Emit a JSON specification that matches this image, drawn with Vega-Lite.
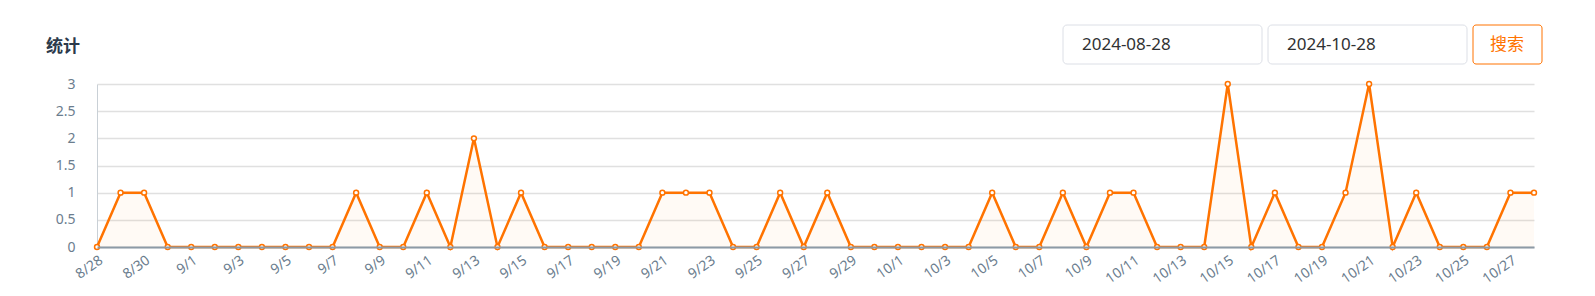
{
  "$schema": "https://vega.github.io/schema/vega-lite/v6.json",
  "width": 1437,
  "height": 163,
  "autosize": "none",
  "padding": {"left": 97, "top": 84, "right": 61, "bottom": 49},
  "background": "#ffffff",
  "config": {
    "view": {"stroke": null},
    "font": "Noto Sans"
  },
  "title": {
    "text": "统计",
    "anchor": "start",
    "frame": "group",
    "font": "Noto Sans CJK SC",
    "baseline": "bottom",
    "dx": -51,
    "dy": 48,
    "offset": 0,
    "fontSize": 17,
    "fontWeight": "bold",
    "color": "#2c3a4b"
  },
  "datasets": {
    "counts": [
      {"day": "8/28", "count": 0}, {"day": "8/29", "count": 1}, {"day": "8/30", "count": 1}, {"day": "8/31", "count": 0},
      {"day": "9/1", "count": 0}, {"day": "9/2", "count": 0}, {"day": "9/3", "count": 0}, {"day": "9/4", "count": 0},
      {"day": "9/5", "count": 0}, {"day": "9/6", "count": 0}, {"day": "9/7", "count": 0}, {"day": "9/8", "count": 1},
      {"day": "9/9", "count": 0}, {"day": "9/10", "count": 0}, {"day": "9/11", "count": 1}, {"day": "9/12", "count": 0},
      {"day": "9/13", "count": 2}, {"day": "9/14", "count": 0}, {"day": "9/15", "count": 1}, {"day": "9/16", "count": 0},
      {"day": "9/17", "count": 0}, {"day": "9/18", "count": 0}, {"day": "9/19", "count": 0}, {"day": "9/20", "count": 0},
      {"day": "9/21", "count": 1}, {"day": "9/22", "count": 1}, {"day": "9/23", "count": 1}, {"day": "9/24", "count": 0},
      {"day": "9/25", "count": 0}, {"day": "9/26", "count": 1}, {"day": "9/27", "count": 0}, {"day": "9/28", "count": 1},
      {"day": "9/29", "count": 0}, {"day": "9/30", "count": 0}, {"day": "10/1", "count": 0}, {"day": "10/2", "count": 0},
      {"day": "10/3", "count": 0}, {"day": "10/4", "count": 0}, {"day": "10/5", "count": 1}, {"day": "10/6", "count": 0},
      {"day": "10/7", "count": 0}, {"day": "10/8", "count": 1}, {"day": "10/9", "count": 0}, {"day": "10/10", "count": 1},
      {"day": "10/11", "count": 1}, {"day": "10/12", "count": 0}, {"day": "10/13", "count": 0}, {"day": "10/14", "count": 0},
      {"day": "10/15", "count": 3}, {"day": "10/16", "count": 0}, {"day": "10/17", "count": 1}, {"day": "10/18", "count": 0},
      {"day": "10/19", "count": 0}, {"day": "10/20", "count": 1}, {"day": "10/21", "count": 3}, {"day": "10/22", "count": 0},
      {"day": "10/23", "count": 1}, {"day": "10/24", "count": 0}, {"day": "10/25", "count": 0}, {"day": "10/26", "count": 0},
      {"day": "10/27", "count": 1}, {"day": "10/28", "count": 1}
    ]
  },
  "layer": [
    {
      "data": {"name": "counts"},
      "encoding": {
        "x": {
          "field": "day", "type": "ordinal", "sort": null,
          "scale": {"type": "point", "padding": 0},
          "axis": {
            "values": ["8/28","8/30","9/1","9/3","9/5","9/7","9/9","9/11","9/13","9/15","9/17","9/19","9/21","9/23","9/25","9/27","9/29","10/1","10/3","10/5","10/7","10/9","10/11","10/13","10/15","10/17","10/19","10/21","10/23","10/25","10/27"],
            "title": null,
            "labelAngle": -35,
            "labelAlign": "right",
            "labelBaseline": "top",
            "labelFontSize": 14,
            "labelColor": "#6b7d8e",
            "labelPadding": 6,
            "ticks": false,
            "domainColor": "#8d9aa6",
            "domainWidth": 2,
            "grid": false,
            "zindex": 1
          }
        },
        "y": {
          "field": "count", "type": "quantitative",
          "scale": {"domain": [0, 3], "nice": false},
          "axis": {
            "values": [0, 0.5, 1, 1.5, 2, 2.5, 3],
            "tickCount": 7,
            "format": "~g",
            "labelOverlap": false,
            "title": null,
            "ticks": false,
            "labelFontSize": 14,
            "labelColor": "#6b7d8e",
            "labelPadding": 22,
            "domainColor": "#c9d0d6",
            "domainWidth": 1,
            "gridColor": "#e0e0e0",
            "gridWidth": 1.5
          }
        }
      },
      "layer": [
        {"mark": {"type": "area", "color": "#ff7300", "opacity": 0.04}},
        {"mark": {"type": "line", "color": "#ff7300", "strokeWidth": 2.5}},
        {"mark": {"type": "point", "filled": true, "fill": "#ffffff", "stroke": "#ff7300", "strokeWidth": 1.5, "size": 24, "opacity": 1}}
      ]
    },
    {
      "data": {"values": [{"label": "2024-08-28"}]},
      "mark": {"type": "rect", "fill": "#ffffff", "stroke": "#dcdfe6", "strokeWidth": 1, "cornerRadius": 4},
      "encoding": {"x": {"value": 966}, "x2": {"value": 1165}, "y": {"value": -59}, "y2": {"value": -20}}
    },
    {
      "data": {"values": [{"label": "2024-10-28"}]},
      "mark": {"type": "rect", "fill": "#ffffff", "stroke": "#dcdfe6", "strokeWidth": 1, "cornerRadius": 4},
      "encoding": {"x": {"value": 1171}, "x2": {"value": 1370}, "y": {"value": -59}, "y2": {"value": -20}}
    },
    {
      "data": {"values": [{"label": "搜索"}]},
      "mark": {"type": "rect", "fill": "#ffffff", "stroke": "#ff7300", "strokeWidth": 1, "cornerRadius": 3},
      "encoding": {"x": {"value": 1376}, "x2": {"value": 1445}, "y": {"value": -59}, "y2": {"value": -20}}
    },
    {
      "data": {"values": [{"label": "2024-08-28"}]},
      "mark": {"type": "text", "align": "left", "baseline": "middle", "fontSize": 17, "color": "#303133", "font": "Noto Sans"},
      "encoding": {"x": {"value": 985}, "y": {"value": -39}, "text": {"field": "label"}}
    },
    {
      "data": {"values": [{"label": "2024-10-28"}]},
      "mark": {"type": "text", "align": "left", "baseline": "middle", "fontSize": 17, "color": "#303133", "font": "Noto Sans"},
      "encoding": {"x": {"value": 1190}, "y": {"value": -39}, "text": {"field": "label"}}
    },
    {
      "data": {"values": [{"label": "搜索"}]},
      "mark": {"type": "text", "align": "center", "baseline": "middle", "fontSize": 17, "color": "#ff7300", "font": "Noto Sans CJK SC"},
      "encoding": {"x": {"value": 1410}, "y": {"value": -39}, "text": {"field": "label"}}
    }
  ]
}
